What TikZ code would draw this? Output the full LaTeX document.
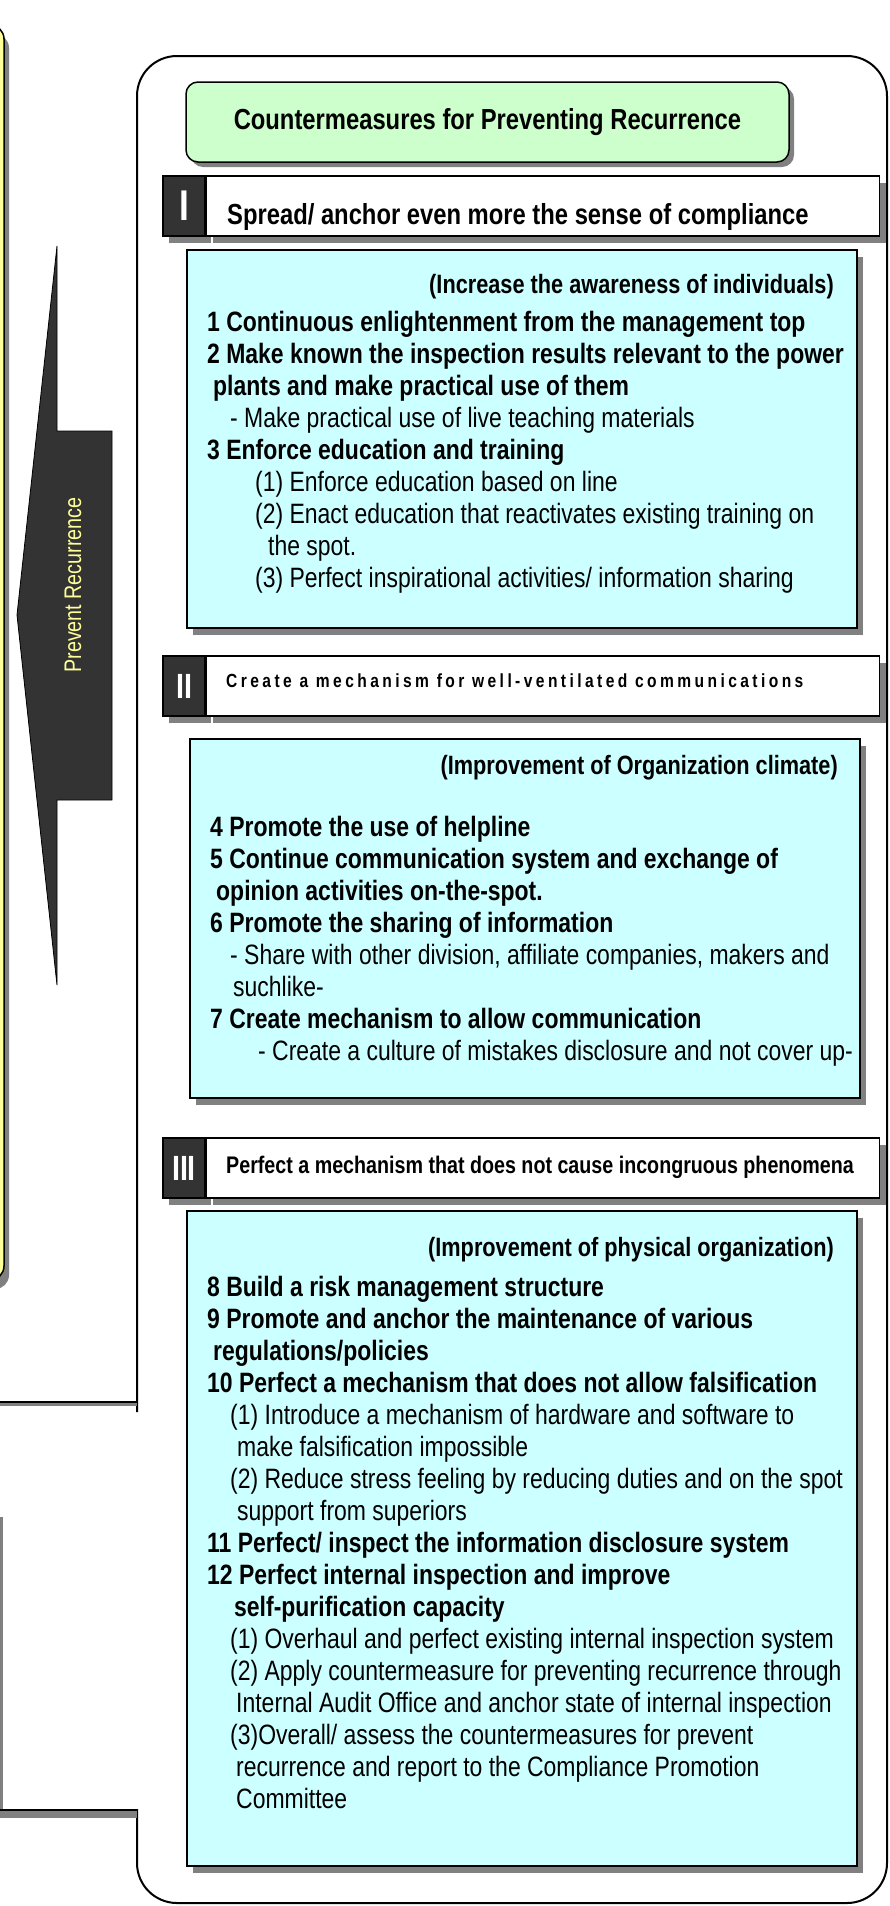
\documentclass[tikz,border=0pt]{standalone}
\usepackage{fontspec}
\setmainfont{Liberation Sans}[FakeStretch=0.82]
\newfontfamily\spacedfont{Liberation Sans}[FakeStretch=0.82,LetterSpace=18]
\usetikzlibrary{positioning,shadows}

\definecolor{cyanfill}{HTML}{CCFFFF}
\definecolor{greenfill}{HTML}{CCFFCC}
\definecolor{yellowfill}{HTML}{FFFF99}
\definecolor{darkfill}{HTML}{333333}
\definecolor{shadowgray}{HTML}{808080}

\newcommand\bodysize{\fontsize{28}{32}\selectfont}

\begin{document}
\begin{tikzpicture}[x=1pt, y=-1pt,
    every node/.style={inner sep=0pt},
    boxshadow/.style={drop shadow={shadow xshift=6pt, shadow yshift=-7pt, opacity=1, fill=shadowgray}},
    titlebox/.style={draw=black, line width=1.5pt, fill=greenfill, rounded corners=12pt,
      minimum width=603pt, minimum height=80pt, font=\bfseries\fontsize{29}{34}\selectfont,
      drop shadow={shadow xshift=5pt, shadow yshift=-5pt, opacity=1, fill=shadowgray}},
    cyanbox/.style={draw=black, line width=1.5pt, fill=cyanfill, boxshadow, anchor=north west},
    numbox/.style={draw=black, line width=1.5pt, fill=darkfill, text=white,
      minimum width=42pt, minimum height=60pt, boxshadow},
    headbox/.style={draw=black, line width=1.5pt, fill=white, minimum width=673pt,
      minimum height=60pt, boxshadow},
    headtext/.style={anchor=base west},
    subhead/.style={font=\bfseries\fontsize{26.5}{30}\selectfont, anchor=base east},
    % base of a list is the base of its last line
    itemlist/.style={font=\bodysize, align=left, anchor=base west},
  ]
  \useasboundingbox (0,0) rectangle (890,1906);

  % yellow panel, cut at the left edge
  \draw[line width=1.5pt, fill=yellowfill, rounded corners=14pt,
    drop shadow={shadow xshift=5pt, shadow yshift=-9pt, opacity=1, fill=shadowgray}]
    (-60,25) rectangle (4,1280);

  % arrow
  \draw[fill=darkfill, line width=0.8pt] (57,246) -- (57,431) -- (112,431) -- (112,800)
    -- (57,800) -- (57,985) -- (17,615) -- cycle;
  \node[rotate=90, text=yellowfill, font=\fontsize{24}{27}\selectfont] (prevent) at (73,585) {Prevent Recurrence};

  % outer frame (open behind the lower left box)
  \draw[line width=2pt, rounded corners=40pt] (137,1412) -- (137,56) -- (887,56)
    -- (887,1903) -- (137,1903) -- (137,1809);

  % lower left boxes, cut at the left edge
  \fill[shadowgray] (0,1403) rectangle (137,1406);
  \draw[line width=1.5pt] (0,1402) -- (137,1402);
  \fill[shadowgray] (0,1517) rectangle (3,1810);
  \fill[shadowgray] (0,1811) rectangle (137,1818);
  \draw[line width=1.5pt] (0,1810) -- (137,1810);

  \node[titlebox] (title) at (487.5,122) {Countermeasures for Preventing Recurrence};

  % heading I
  \node[numbox, font=\bfseries\fontsize{43}{43}\selectfont] (num1) at (184,206) {I};
  \node[headbox, right=0pt of num1] (head1) {};
  \node[headtext, font=\bfseries\fontsize{29}{34}\selectfont] (head1text) at (227,224)
    {Spread/ anchor even more the sense of compliance};

  \node[cyanbox, minimum width=670pt, minimum height=378pt] (aware) at (186,249) {};
  \node[subhead] (awaretitle) at (834,293) {(Increase the awareness of individuals)};
  \node[itemlist] (awarelist) at (207,587) {%
    \textbf{1 Continuous enlightenment from the management top}\\
    \textbf{2 Make known the inspection results relevant to the power}\\
    \hspace*{6pt}\textbf{plants and make practical use of them}\\
    \hspace*{23pt}- Make practical use of live teaching materials\\
    \textbf{3 Enforce education and training}\\
    \hspace*{48pt}(1) Enforce education based on line\\
    \hspace*{48pt}(2) Enact education that reactivates existing training on\\
    \hspace*{61pt}the spot.\\
    \hspace*{48pt}(3) Perfect inspirational activities/ information sharing};

  % heading II
  \node[numbox, font=\bfseries\fontsize{35}{35}\selectfont] (num2) at (184,686) {II};
  \node[headbox, right=0pt of num2] (head2) {};
  \node[headtext, font=\spacedfont\bfseries\fontsize{19}{22}\selectfont] (head2text) at (226,687)
    {Create a mechanism for well-ventilated communications};

  \node[cyanbox, minimum width=670pt, minimum height=359pt] (climate) at (189,738) {};
  \node[subhead] (climatetitle) at (838,774) {(Improvement of Organization climate)};
  \node[itemlist] (climatelist) at (210,1060) {%
    \textbf{4 Promote the use of helpline}\\
    \textbf{5 Continue communication system and exchange of}\\
    \hspace*{6pt}\textbf{opinion activities on-the-spot.}\\
    \textbf{6 Promote the sharing of information}\\
    \hspace*{20pt}- Share with other division, affiliate companies, makers and\\
    \hspace*{23pt}suchlike-\\
    \textbf{7 Create mechanism to allow communication}\\
    \hspace*{48pt}- Create a culture of mistakes disclosure and not cover up-};

  % heading III
  \node[numbox, font=\bfseries\fontsize{35}{35}\selectfont] (num3) at (184,1168) {III};
  \node[headbox, right=0pt of num3] (head3) {};
  \node[headtext, font=\bfseries\fontsize{24}{28}\selectfont] (head3text) at (226,1173)
    {Perfect a mechanism that does not cause incongruous phenomena};

  \node[cyanbox, minimum width=670pt, minimum height=655pt] (physical) at (186,1210) {};
  \node[subhead] (physicaltitle) at (834,1256) {(Improvement of physical organization)};
  \node[itemlist] (physicallist) at (207,1808) {%
    \textbf{8 Build a risk management structure}\\
    \textbf{9 Promote and anchor the maintenance of various}\\
    \hspace*{6pt}\textbf{regulations/policies}\\
    \textbf{10 Perfect a mechanism that does not allow falsification}\\
    \hspace*{23pt}(1) Introduce a mechanism of hardware and software to\\
    \hspace*{30pt}make falsification impossible\\
    \hspace*{23pt}(2) Reduce stress feeling by reducing duties and on the spot\\
    \hspace*{30pt}support from superiors\\
    \textbf{11 Perfect/ inspect the information disclosure system}\\
    \textbf{12 Perfect internal inspection and improve}\\
    \hspace*{27pt}\textbf{self-purification capacity}\\
    \hspace*{23pt}(1) Overhaul and perfect existing internal inspection system\\
    \hspace*{23pt}(2) Apply countermeasure for preventing recurrence through\\
    \hspace*{29pt}Internal Audit Office and anchor state of internal inspection\\
    \hspace*{23pt}(3)Overall/ assess the countermeasures for prevent\\
    \hspace*{29pt}recurrence and report to the Compliance Promotion\\
    \hspace*{29pt}Committee};
\end{tikzpicture}
\end{document}
